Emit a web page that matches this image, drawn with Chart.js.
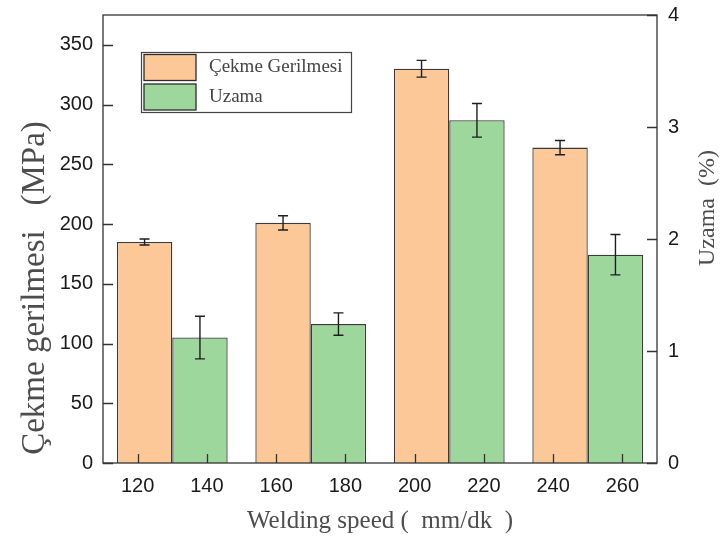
<!DOCTYPE html>
<html>
<head>
<meta charset="utf-8">
<script src="https://cdn.jsdelivr.net/npm/chart.js@4.4.1/dist/chart.umd.min.js"></script>
<style>
  html, body { margin: 0; padding: 0; background: #ffffff; }
  #wrap { width: 724px; height: 540px; }
</style>
</head>
<body>
<div id="wrap"><canvas id="chart" width="724" height="540"></canvas></div>
<script>
// Welding speed (mm/dk) – tick labels along the bottom axis
const speeds = ['120', '140', '160', '180', '200', '220', '240', '260'];
// Bar pairs: tensile bar at the first speed, elongation bar at the second
const pairs = ['120 / 140', '160 / 180', '200 / 220', '240 / 260'];

// Tensile strength (MPa) and its error
const tensile = [185, 201, 330, 264];
const tensileErr = [2.5, 6, 7, 6];

// Elongation (%) and its error
const elongation = [1.12, 1.24, 3.06, 1.86];
const elongationErr = [0.19, 0.10, 0.15, 0.18];

// Axis tick values
const leftTicks = [0, 50, 100, 150, 200, 250, 300, 350];
const rightTicks = [0, 1, 2, 3, 4];

const SANS = '"Liberation Sans", Arial, sans-serif';
const SERIF = '"Liberation Serif", "Times New Roman", serif';
const FRAME = '#333333';

// Error bars with caps, centred on each bar
const errorBarPlugin = {
  id: 'errorBars',
  afterDatasetsDraw(chart) {
    const ctx = chart.ctx;
    ctx.save();
    ctx.strokeStyle = '#1e1e1e';
    ctx.lineWidth = 1.4;
    chart.data.datasets.forEach((ds, di) => {
      const meta = chart.getDatasetMeta(di);
      const scale = chart.scales[ds.yAxisID];
      meta.data.forEach((bar, i) => {
        const v = ds.data[i], e = ds.errorBars[i];
        const yTop = scale.getPixelForValue(v + e);
        const yBot = scale.getPixelForValue(v - e);
        const x = bar.x, cap = 5;
        ctx.beginPath();
        ctx.moveTo(x, yTop); ctx.lineTo(x, yBot);
        ctx.moveTo(x - cap, yTop); ctx.lineTo(x + cap, yTop);
        ctx.moveTo(x - cap, yBot); ctx.lineTo(x + cap, yBot);
        ctx.stroke();
      });
    });
    ctx.restore();
  }
};

// Plot frame, inward tick marks, axis titles and the boxed legend
const framePlugin = {
  id: 'frame',
  afterDraw(chart) {
    const ctx = chart.ctx;
    const a = chart.chartArea;
    ctx.save();
    ctx.strokeStyle = FRAME;
    ctx.lineWidth = 1.3;
    ctx.strokeRect(a.left, a.top, a.right - a.left, a.bottom - a.top);

    ctx.beginPath();
    const yL = chart.scales.y, yR = chart.scales.y1, xB = chart.scales.x2;
    yL.ticks.forEach(t => {
      const p = Math.round(yL.getPixelForValue(t.value)) + 0.5;
      ctx.moveTo(a.left, p); ctx.lineTo(a.left + 10, p);
    });
    yR.ticks.forEach(t => {
      const p = Math.round(yR.getPixelForValue(t.value)) + 0.5;
      ctx.moveTo(a.right, p); ctx.lineTo(a.right - 10, p);
    });
    xB.ticks.forEach((t, i) => {
      const p = Math.round(xB.getPixelForTick(i)) + 0.5;
      ctx.moveTo(p, a.bottom); ctx.lineTo(p, a.bottom - 9);
    });
    ctx.stroke();

    // rotated axis titles
    ctx.fillStyle = '#4d4d4d';
    ctx.textAlign = 'center';
    ctx.textBaseline = 'middle';
    ctx.font = '33px ' + SERIF;
    ctx.save();
    ctx.translate(35, 288);
    ctx.rotate(-Math.PI / 2);
    ctx.fillText('Çekme gerilmesi   (MPa)', 0, 0);
    ctx.restore();
    ctx.font = '24px ' + SERIF;
    ctx.save();
    ctx.translate(708, 208);
    ctx.rotate(-Math.PI / 2);
    ctx.fillText('Uzama  (%)', 0, 0);
    ctx.restore();

    // legend box
    const lx = 141.5, ly = 52.5, lw = 210, lh = 60;
    ctx.fillStyle = '#ffffff';
    ctx.fillRect(lx, ly, lw, lh);
    ctx.strokeStyle = '#444444';
    ctx.lineWidth = 1.2;
    ctx.strokeRect(lx, ly, lw, lh);
    ctx.font = '19px ' + SERIF;
    ctx.textAlign = 'left';
    chart.data.datasets.forEach((ds, i) => {
      const sy = 54.5 + i * 29.5;
      ctx.fillStyle = ds.backgroundColor;
      ctx.fillRect(144, sy, 52, 26);
      ctx.strokeStyle = '#2b2b2b';
      ctx.lineWidth = 1.3;
      ctx.strokeRect(144, sy, 52, 26);
      ctx.fillStyle = '#444444';
      ctx.fillText(ds.label, 209, sy + 13);
    });
    ctx.restore();
  }
};

// Fixed axis box sizes so the plot area sits at the same place every time
function fixVertical(width) {
  return s => { s.width = width; s.paddingTop = 0; s.paddingBottom = 0; };
}

new Chart(document.getElementById('chart'), {
  type: 'bar',
  data: {
    labels: pairs,
    datasets: [
      {
        label: 'Çekme Gerilmesi',
        data: tensile,
        errorBars: tensileErr,
        xAxisID: 'x',
        yAxisID: 'y',
        backgroundColor: '#FDC897',
        borderColor: '#3a3a3a',
        borderWidth: 1.3,
        borderSkipped: 'bottom',
        barPercentage: 1,
        categoryPercentage: 0.8
      },
      {
        label: 'Uzama',
        data: elongation,
        errorBars: elongationErr,
        xAxisID: 'x',
        yAxisID: 'y1',
        backgroundColor: '#9ED79B',
        borderColor: '#3a3a3a',
        borderWidth: 1.3,
        borderSkipped: 'bottom',
        barPercentage: 1,
        categoryPercentage: 0.8
      }
    ]
  },
  options: {
    responsive: false,
    animation: false,
    devicePixelRatio: 1,
    layout: { padding: { top: 15, left: 0, right: 0, bottom: 0 } },
    plugins: { legend: { display: false }, tooltip: { enabled: false } },
    scales: {
      x: { type: 'category', display: false, offset: true },
      x2: {
        type: 'category',
        labels: speeds,
        position: 'bottom',
        offset: true,
        grid: { display: false, drawTicks: false },
        border: { display: false },
        ticks: { padding: 11, color: '#1a1a1a', font: { family: SANS, size: 20 } },
        title: {
          display: true,
          text: 'Welding speed (  mm/dk  )',
          color: '#4d4d4d',
          font: { family: SERIF, size: 25 },
          padding: { top: 0, bottom: 4 }
        },
        afterFit(s) { s.height = 77; s.paddingLeft = 0; s.paddingRight = 0; }
      },
      y: {
        position: 'left',
        min: 0,
        max: 375,
        grid: { display: false, drawTicks: false },
        border: { display: false },
        ticks: { padding: 10, color: '#1a1a1a', font: { family: SANS, size: 20 } },
        afterBuildTicks(s) { s.ticks = leftTicks.map(v => ({ value: v })); },
        afterFit: fixVertical(103)
      },
      y1: {
        position: 'right',
        min: 0,
        max: 4,
        grid: { display: false, drawTicks: false },
        border: { display: false },
        ticks: { padding: 11, color: '#1a1a1a', font: { family: SANS, size: 20 } },
        afterBuildTicks(s) { s.ticks = rightTicks.map(v => ({ value: v })); },
        afterFit: fixVertical(67)
      }
    }
  },
  plugins: [errorBarPlugin, framePlugin]
});
</script>
</body>
</html>
